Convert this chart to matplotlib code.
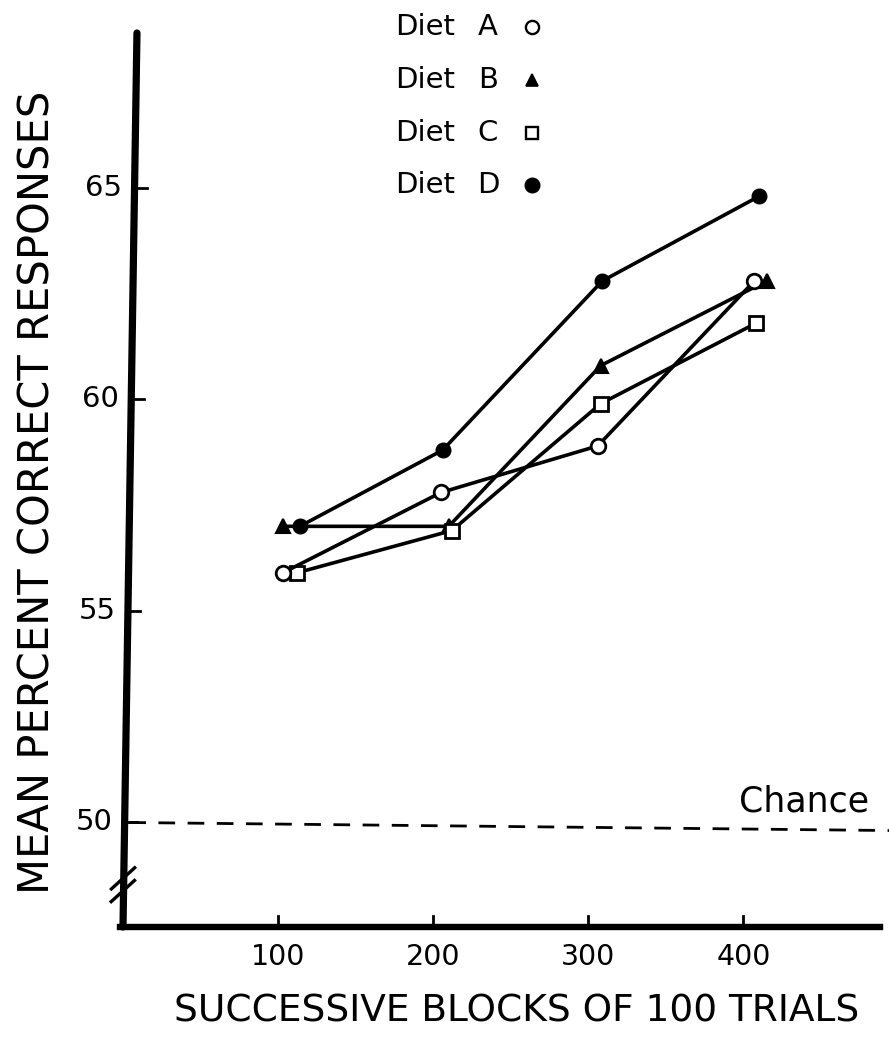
import matplotlib
matplotlib.use('Agg')
import matplotlib.pyplot as plt
from matplotlib.lines import Line2D

plt.rcParams['font.family'] = ['DejaVu Sans']

W, H = 889, 1047

# data (x = trial block position as plotted, y = mean % correct)
diets = ['A', 'B', 'C', 'D']
x_a = [103, 205, 306, 407]
y_a = [55.9, 57.8, 58.9, 62.8]
x_b = [103, 210, 308, 415]
y_b = [57.0, 57.0, 60.8, 62.8]
x_c = [112, 212, 308, 408]
y_c = [55.9, 56.9, 59.9, 61.8]
x_d = [114, 206, 309, 410]
y_d = [57.0, 58.8, 62.8, 64.8]
xticks = [100, 200, 300, 400]
yticks = [50, 55, 60, 65]
chance = 50

fig = plt.figure(figsize=(W / 100, H / 100), dpi=100)
ax = fig.add_axes([123 / W, 1 - 927 / H, (880 - 123) / W, (927 - 33) / H])
xmin, xmax = 0, 488
ymin, ymax = 47.53, 68.66
ax.set_xlim(xmin, xmax)
ax.set_ylim(ymin, ymax)
ax.axis('off')

def fx(px):
    return px / W

def fy(py):
    return 1 - py / H

# slanted, hand-drawn looking y axis
def axis_x(v):
    return 0 + 9 * (v - ymin) / (ymax - ymin)

ax.plot([axis_x(ymax), axis_x(ymin)], [ymax, ymin], color='black', lw=5.2,
        solid_capstyle='round', clip_on=False)
ax.plot([-2, xmax], [ymin, ymin], color='black', lw=4.6, clip_on=False)

# axis break marks
for dv in (0.95, 1.25):
    v = ymin + dv
    ax.plot([axis_x(v) - 8, axis_x(v) + 7], [v - 0.35, v + 0.15], color='black',
            lw=2.4, clip_on=False)

# y ticks and labels
for t in yticks:
    x0 = axis_x(t)
    ax.plot([x0, x0 + 8], [t, t], color='black', lw=2, clip_on=False)
    ax.text(x0 - 8, t, str(t), ha='right', va='center', fontsize=21)

# x ticks and labels
for t in xticks:
    ax.plot([t, t], [ymin, ymin + 0.25], color='black', lw=2, clip_on=False)
    ax.text(t, ymin - 0.7, str(t), ha='center', va='center', fontsize=20.5)

# chance line
ax.plot([axis_x(chance) + 3, 494], [chance, chance - 0.19], color='black', lw=2,
        dashes=(6, 4.5), clip_on=False)
ax.text(481, chance + 0.5, 'Chance', ha='right', va='center', fontsize=25)

lw = 2.6
ms = 10.5
ax.plot(x_d, y_d, color='black', lw=lw, marker='o', ms=ms, mfc='black', mec='black', zorder=3)
ax.plot(x_b, y_b, color='black', lw=lw, marker='^', ms=ms, mfc='black', mec='black',
        mew=1.5, zorder=3)
ax.plot(x_c, y_c, color='black', lw=lw, marker='s', ms=ms, mfc='white', mec='black',
        mew=2, zorder=4)
ax.plot(x_a, y_a, color='black', lw=lw, marker='o', ms=ms, mfc='white', mec='black',
        mew=2, zorder=4)

# legend drawn by hand like the original
leg_y = [27, 80, 133, 185]
leg_marker = [dict(marker='o', mfc='white', ms=9.5, mew=1.7),
              dict(marker='^', mfc='black', ms=8, mew=1.2),
              dict(marker='s', mfc='white', ms=9, mew=1.7),
              dict(marker='o', mfc='black', ms=10, mew=1.5)]
for name, py, mk in zip(diets, leg_y, leg_marker):
    fig.text(fx(395), fy(py), 'Diet', ha='left', va='center', fontsize=21)
    fig.text(fx(488), fy(py), name, ha='center', va='center', fontsize=21)
    fig.add_artist(Line2D([fx(532)], [fy(py)], transform=fig.transFigure,
                          ls='none', mec='black', **mk))

fig.text(fx(38), fy(492), 'MEAN PERCENT CORRECT RESPONSES', rotation=90,
         ha='center', va='center', fontsize=30)
fig.text(fx(517), fy(1012), 'SUCCESSIVE BLOCKS OF 100 TRIALS', ha='center',
         va='center', fontsize=27)

fig.savefig('out.png', dpi=100)
